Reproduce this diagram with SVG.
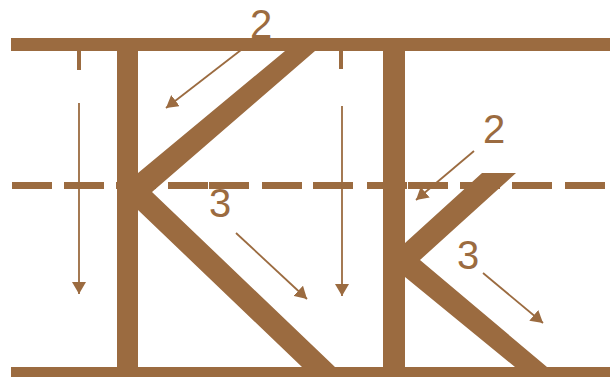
<svg xmlns="http://www.w3.org/2000/svg" width="614" height="377" viewBox="0 0 614 377">
<defs>
<style>
.f{fill:#9B6B40}
.thin{stroke:#9B6B40;stroke-width:1.8;fill:none}
.tick{stroke:#9B6B40;stroke-width:4;fill:none}
.dash{stroke:#9B6B40;stroke-width:7;fill:none}
.lbl{font-family:"Liberation Sans",Arial,sans-serif;font-size:40px;fill:#9B6B40}
</style>
<marker id="ah" viewBox="0 0 12 14" refX="12" refY="7" markerWidth="12" markerHeight="14" markerUnits="userSpaceOnUse" orient="auto">
<path d="M0,0 L12,7 L0,14 Z" fill="#9B6B40"/>
</marker>
</defs>
<g id="guides">
<rect class="f" x="11" y="38" width="599" height="13"/>
<rect class="f" x="11" y="367" width="599" height="10"/>
<path class="dash" d="M12 185.5H52M64 185.5H104M116 185.5H156M168 185.5H208M209 185.5H249M262 185.5H302M313 185.5H353M367 185.5H407M408 185.5H448M460 185.5H500M512 185.5H552M565 185.5H605"/>
</g>
<g id="letter-K">
<rect class="f" x="117" y="45" width="21" height="325"/>
<path class="f" d="M138 173 L285 51 L315 51 L152 192 L335 367 L302 367 L138 210 Z"/>
</g>
<g id="letter-k">
<rect class="f" x="383" y="45" width="22" height="325"/>
<path class="f" d="M405 243 L482 173 L516 173 L420 260 L547 367 L515 367 L405 277 Z"/>
</g>
<g id="connectors">
<line class="tick" x1="79" y1="51" x2="79" y2="70"/>
<line class="thin" x1="79" y1="103" x2="79" y2="294" marker-end="url(#ah)"/>
<line class="tick" x1="341" y1="51" x2="341" y2="69"/>
<line class="thin" x1="342" y1="106" x2="342" y2="296" marker-end="url(#ah)"/>
<line class="thin" x1="241" y1="50" x2="166" y2="108" marker-end="url(#ah)"/>
<line class="thin" x1="474" y1="151" x2="416" y2="200" marker-end="url(#ah)"/>
<line class="thin" x1="236" y1="233" x2="307" y2="299" marker-end="url(#ah)"/>
<line class="thin" x1="483" y1="273" x2="543" y2="323" marker-end="url(#ah)"/>
</g>
<g id="labels">
<text class="lbl" x="250" y="38">2</text>
<text class="lbl" x="483" y="143">2</text>
<text class="lbl" x="209" y="217">3</text>
<text class="lbl" x="457" y="269">3</text>
</g>
</svg>
